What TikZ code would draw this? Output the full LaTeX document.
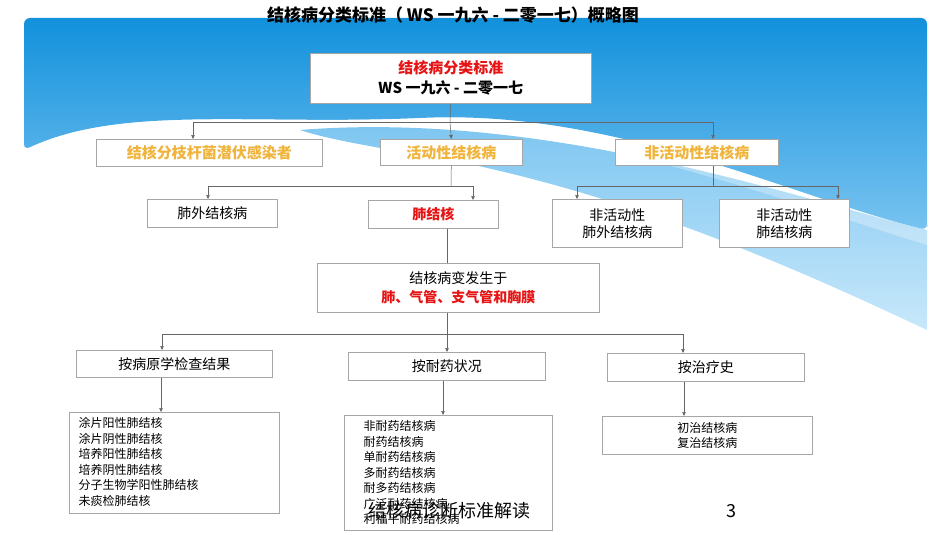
\documentclass[tikz,border=0pt]{standalone}
\usepackage{fontspec}
\setmainfont{Noto Sans CJK SC}
\usetikzlibrary{arrows.meta}
\definecolor{sky}{RGB}{18,145,220}
\definecolor{skyl}{RGB}{120,195,240}
\definecolor{skyp}{RGB}{200,232,250}
\definecolor{gold}{RGB}{240,180,60}
\definecolor{redt}{RGB}{230,20,20}
\tikzset{
 bx/.style={draw=black!35,fill=white,line width=0.6pt,inner sep=0pt},
 ln/.style={draw=black!60,line width=0.5pt},
 ar/.style={ln,-{Triangle[length=4pt,width=3.5pt]}},
 lst/.style={align=left,font=\fontsize{12}{15.5}\selectfont,anchor=north west}
}
\newcommand{\bxat}[5]{\node[bx,minimum width=#3-#1,minimum height=#4-#2,anchor=north west] (#5) at (#1,-#2) {};}
\begin{document}
\begin{tikzpicture}[x=1pt,y=1pt]
\useasboundingbox (0,0) rectangle (950,-535);
% background
\shade[top color=skyl,bottom color=skyp] (300,-130) .. controls (550,-110) and (800,-200) .. (927,-230) -- (927,-330) .. controls (820,-280) and (650,-200) .. (450,-160) .. controls (380,-148) and (330,-140) .. (300,-130) -- cycle;
\shade[top color=sky,bottom color=skyl,rounded corners=6pt] (24,-18) -- (927,-18) -- (927,-230) -- (927,-230) .. controls (800,-200) and (620,-110) .. (420,-118) .. controls (250,-125) and (120,-105) .. (24,-150) -- cycle;
\fill[white,opacity=0.3] (24,-150) .. controls (120,-105) and (250,-125) .. (420,-118) .. controls (620,-110) and (800,-200) .. (927,-230) -- (927,-245) .. controls (780,-200) and (600,-130) .. (420,-126) .. controls (250,-125) and (120,-118) .. (24,-156) -- cycle;
\node[font=\bfseries\fontsize{17}{19}\selectfont] (title) at (453,-15) {结核病分类标准（ WS 一九六 - 二零一七）概略图};
% boxes
\bxat{310}{53}{591}{103}{root}
\node[align=center,font=\bfseries\fontsize{15}{20}\selectfont] at (root) {\textcolor{redt}{结核病分类标准}\\WS 一九六 - 二零一七};
\bxat{96}{139}{322}{166}{lat}
\node[font=\bfseries\fontsize{15}{17}\selectfont,text=gold] at (lat) {结核分枝杆菌潜伏感染者};
\bxat{380}{139}{522}{165}{act}
\node[font=\bfseries\fontsize{15}{17}\selectfont,text=gold] at (act) {活动性结核病};
\bxat{615}{139}{778}{165}{ina}
\node[font=\bfseries\fontsize{15}{17}\selectfont,text=gold] at (ina) {非活动性结核病};
\bxat{147}{199}{277}{227}{fw}
\node[font=\fontsize{14}{16}\selectfont] at (fw) {肺外结核病};
\bxat{368}{200}{498}{228}{fj}
\node[font=\bfseries\fontsize{14}{16}\selectfont,text=redt] at (fj) {肺结核};
\bxat{552}{199}{682}{247}{ifw}
\node[align=center,font=\fontsize{14}{17}\selectfont] at (ifw) {非活动性\\肺外结核病};
\bxat{719}{199}{849}{247}{ifj}
\node[align=center,font=\fontsize{14}{17}\selectfont] at (ifj) {非活动性\\肺结核病};
\bxat{317}{263}{599}{312}{site}
\node[align=center,font=\fontsize{14}{19}\selectfont] at (site) {结核病变发生于\\\textcolor{redt}{\bfseries 肺、气管、支气管和胸膜}};
\bxat{76}{350}{272}{377}{byp}
\node[font=\fontsize{14}{16}\selectfont] at (byp) {按病原学检查结果};
\bxat{348}{352}{545}{380}{byd}
\node[font=\fontsize{14}{16}\selectfont] at (byd) {按耐药状况};
\bxat{607}{353}{804}{381}{byt}
\node[font=\fontsize{14}{16}\selectfont] at (byt) {按治疗史};
\bxat{69}{412}{279}{513}{lp}
\node[lst] at (75,-414) {涂片阳性肺结核\\涂片阴性肺结核\\培养阳性肺结核\\培养阴性肺结核\\分子生物学阳性肺结核\\未痰检肺结核};
\bxat{344}{415}{552}{530}{ld}
\node[lst] at (360,-417) {非耐药结核病\\耐药结核病\\单耐药结核病\\多耐药结核病\\耐多药结核病\\广泛耐药结核病\\利福平耐药结核病};
\bxat{602}{416}{812}{454}{lt}
\node[align=left,font=\fontsize{12}{15}\selectfont] at (lt) {初治结核病\\复治结核病};
% connectors
\coordinate (r1) at (450,-122);
\draw[ln] (root.south) -- (r1);
\draw[ln] (193,-122) -- (713,-122);
\draw[ar] (193,-122) -- (lat.north -| 193,0);
\draw[ar] (r1) -- (act.north);
\draw[ar] (713,-122) -- (ina.north -| 713,0);
\draw[ln] (act.south) -- (451,-186);
\draw[ln] (208,-186) -- (473,-186);
\draw[ar] (208,-186) -- (208,-199);
\draw[ar] (473,-186) -- (473,-200);
\draw[ln] (ina.south -| 713,0) -- (713,-186);
\draw[ln] (577,-186) -- (838,-186);
\draw[ar] (577,-186) -- (577,-199);
\draw[ar] (838,-186) -- (838,-199);
\draw[ln] (fj.south -| 447,0) -- (site.north -| 447,0);
\draw[ln] (site.south -| 447,0) -- (447,-334);
\draw[ln] (162,-334) -- (683,-334);
\draw[ar] (162,-334) -- (byp.north -| 162,0);
\draw[ar] (447,-334) -- (byd.north -| 447,0);
\draw[ar] (683,-334) -- (byt.north -| 683,0);
\draw[ar] (byp.south -| 161,0) -- (lp.north -| 161,0);
\draw[ar] (byd.south -| 443,0) -- (ld.north -| 443,0);
\draw[ar] (byt.south -| 684,0) -- (lt.north -| 684,0);
% footer
\node[font=\fontsize{18}{20}\selectfont] (foot) at (449,-511) {结核病诊断标准解读};
\node[font=\fontsize{18}{20}\selectfont] (pg) at (731,-511) {3};
\end{tikzpicture}
\end{document}
